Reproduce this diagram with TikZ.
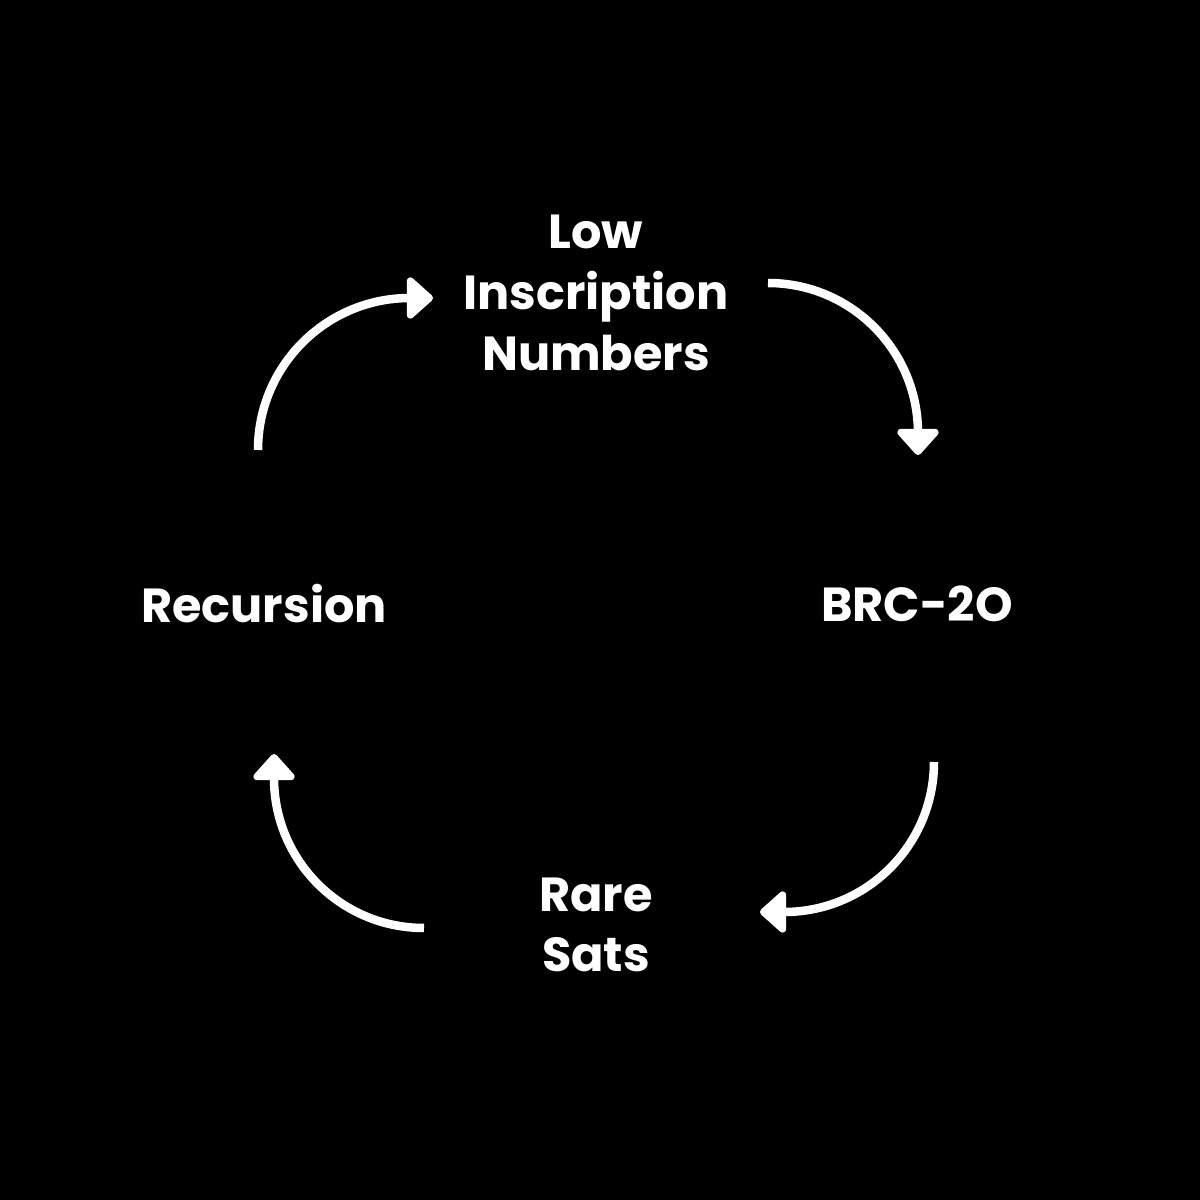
\documentclass[tikz,border=0pt]{standalone}
\usepackage{fontspec}
\setmainfont{Poppins}
\usetikzlibrary{arrows.meta}
\begin{document}
\begin{tikzpicture}[
  lbl/.style={text=white,font=\fontsize{13.6}{17.3}\selectfont\bfseries,align=center},
  arr/.style={draw=white,line width=0.085cm,-{Triangle[length=0.28cm,width=0.48cm,round]}}]
\fill[black] (0,0) rectangle (12,12);
\useasboundingbox (0,0) rectangle (12,12);
\node[lbl] (low) at (5.96,9.07) {Low\\Inscription\\Numbers};
\node[lbl] (brc) at (9.17,5.96) {BRC-2O};
\node[lbl] (rare) at (5.96,2.75) {Rare\\Sats};
\node[lbl] (rec) at (2.64,5.96) {Recursion};
\coordinate (a1) at (7.68,9.17);
\coordinate (a2) at (9.34,4.38);
\coordinate (a3) at (4.24,2.72);
\coordinate (a4) at (2.58,7.50);
\draw[arr] (a1) arc[start angle=90,end angle=0,radius=1.5] -- ++(0,-0.22);
\draw[arr] (a2) arc[start angle=0,end angle=-90,radius=1.5] -- ++(-0.24,0);
\draw[arr] (a3) arc[start angle=270,end angle=180,radius=1.5] -- ++(0,0.24);
\draw[arr] (a4) arc[start angle=180,end angle=90,radius=1.52] -- ++(0.23,0);
\end{tikzpicture}
\end{document}
